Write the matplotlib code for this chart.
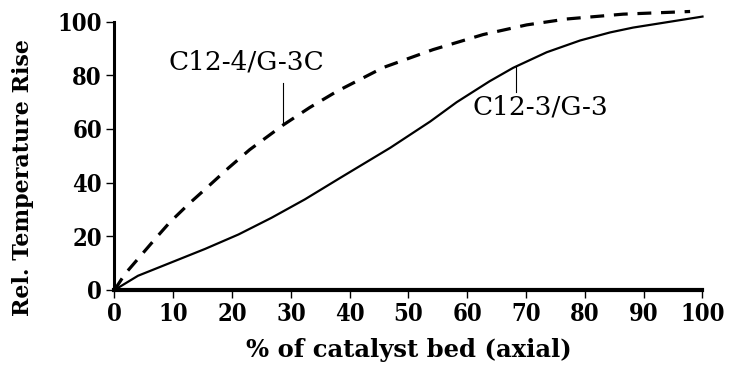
import matplotlib
matplotlib.use('Agg')
import matplotlib.pyplot as plt

# dashed curve, C12-4/G-3C
x_c124 = [0, 1.8, 4.0, 6.9, 9.4, 12.6, 16.0, 19.4, 23.0, 28.7, 33.2, 37.8, 45.7, 54.2, 62.7, 70.1, 76.9, 86.5, 97.9]
y_c124 = [0, 6.0, 11.6, 19.0, 25.2, 32.0, 38.7, 45.5, 52.3, 61.5, 68.0, 74.0, 82.9, 89.6, 95.2, 98.8, 101, 102.8, 103.8]

# solid curve, C12-3/G-3
x_c123 = [0, 4.0, 9.7, 15.4, 21.1, 26.7, 32.4, 38.4, 46.9, 53.7, 58.2, 63.8, 67.8, 73.5, 79.2, 84.3, 88.2, 100]
y_c123 = [0, 5.3, 10.3, 15.3, 20.7, 26.9, 33.8, 41.8, 53.0, 62.8, 70.0, 77.8, 82.8, 88.6, 93.0, 96.0, 97.8, 101.9]

xticks = [0, 10, 20, 30, 40, 50, 60, 70, 80, 90, 100]
yticks = [0, 20, 40, 60, 80, 100]

plt.rcParams['lines.scale_dashes'] = False

fig = plt.figure(figsize=(7.31, 3.75), dpi=100)
ax = fig.add_axes([0.1566, 0.2267, 0.8044, 0.7155])

ax.plot(x_c124, y_c124, color='black', lw=2.3, dashes=(10, 7), clip_on=False)
ax.plot(x_c123, y_c123, color='black', lw=1.6, clip_on=False)

ax.set_xlim(0, 100)
ax.set_ylim(0, 100)

for s in ['top', 'right']:
    ax.spines[s].set_visible(False)
ax.spines['left'].set_linewidth(2.2)
ax.spines['bottom'].set_linewidth(3)

ax.set_xticks(xticks)
ax.set_yticks(yticks)
ax.tick_params(axis='both', direction='out', length=6, width=1, pad=3)
tick_font = dict(family='DejaVu Serif', weight='bold', size=17, stretch='condensed')
ax.set_xticklabels([str(v) for v in xticks], **tick_font)
ax.set_yticklabels([str(v) for v in yticks], **tick_font)

ax.set_xlabel('% of catalyst bed (axial)', family='DejaVu Serif', weight='bold', size=17.5, labelpad=8)
ax.set_ylabel('Rel. Temperature Rise', family='DejaVu Serif', weight='bold', size=16)
ax.yaxis.set_label_coords(-0.137, 0.42)

# curve labels with leader lines
ax.text(22.4, 85, 'C12-4/G-3C', family='DejaVu Serif', size=19, ha='center', va='center')
ax.plot([28.7, 28.7], [61.8, 77.2], color='black', lw=0.8)
ax.text(72.5, 68.2, 'C12-3/G-3', family='DejaVu Serif', size=19, ha='center', va='center')
ax.plot([68.2, 68.2], [73.9, 83.2], color='black', lw=0.8)

fig.savefig('out.png', dpi=100)
